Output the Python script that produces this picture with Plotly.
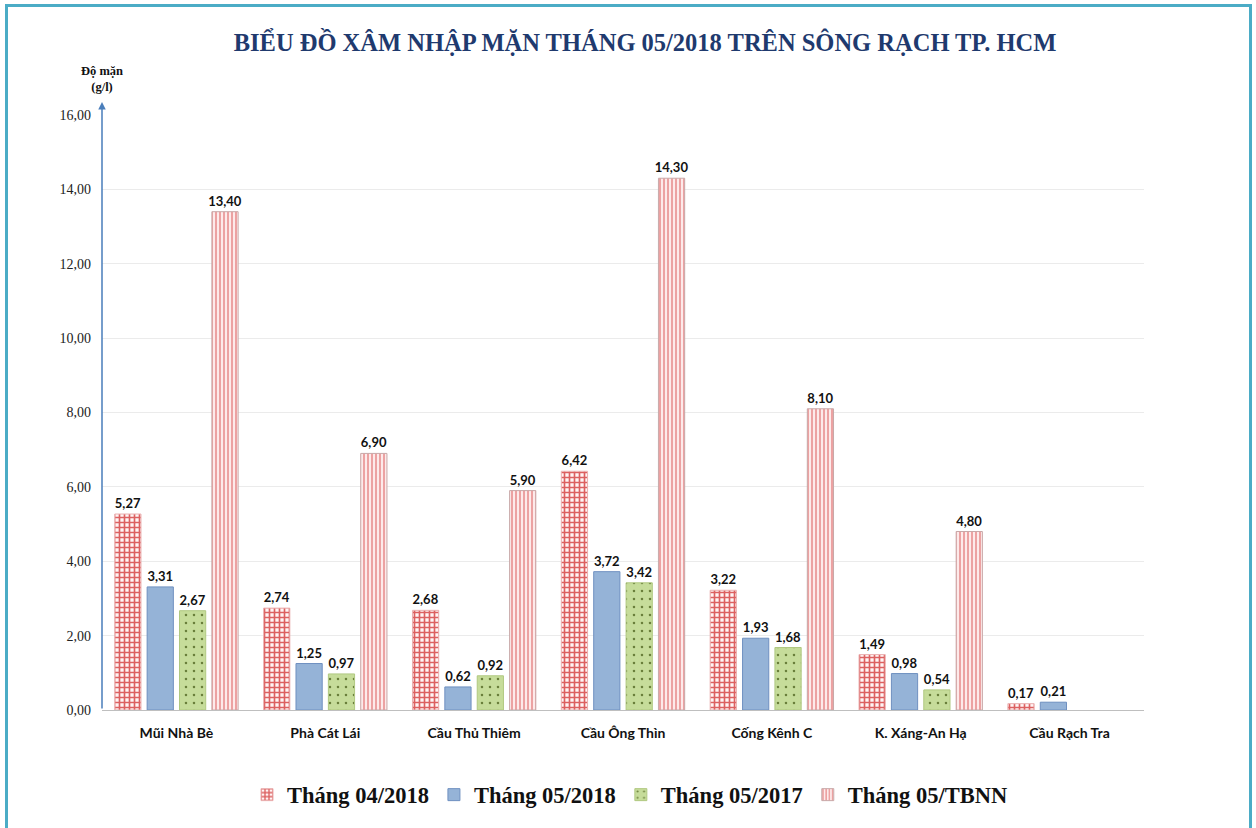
import plotly.graph_objects as go

categories = ["Mũi Nhà Bè", "Phà Cát Lái", "Cầu Thủ Thiêm", "Cầu Ông Thìn",
              "Cống Kênh C", "K. Xáng-An Hạ", "Cầu Rạch Tra"]
series_names = ["Tháng 04/2018", "Tháng 05/2018", "Tháng 05/2017", "Tháng 05/TBNN"]
thang_04_2018 = [5.27, 2.74, 2.68, 6.42, 3.22, 1.49, 0.17]
thang_05_2018 = [3.31, 1.25, 0.62, 3.72, 1.93, 0.98, 0.21]
thang_05_2017 = [2.67, 0.97, 0.92, 3.42, 1.68, 0.54, None]
thang_05_tbnn = [13.40, 6.90, 5.90, 14.30, 8.10, 4.80, None]
y_ticks = [0, 2, 4, 6, 8, 10, 12, 14, 16]

W, H = 1256, 828
L, R, T, B = 102, 112, 115, 118

def lbl(vals):
    return [("" if v is None else f"{v:.2f}".replace(".", ",")) for v in vals]

label_font = dict(family="Lato, Open Sans, sans-serif", size=13, color="#111111", weight="bold")
common = dict(textposition="outside", textfont=label_font, cliponaxis=False, constraintext="none")

fig = go.Figure()
fig.add_trace(go.Bar(
    name=series_names[0], x=categories, y=thang_04_2018, text=lbl(thang_04_2018), **common,
    marker=dict(color="#ffffff",
                pattern=dict(shape="+", fgcolor="#dc6060", bgcolor="#fff4f4", size=5, solidity=0.55, fillmode="replace"),
                line=dict(color="#eab0b0", width=1)),
))
fig.add_trace(go.Bar(
    name=series_names[1], x=categories, y=thang_05_2018, text=lbl(thang_05_2018), **common,
    marker=dict(color="#95b3d7", line=dict(color="#6f90c0", width=1)),
))
fig.add_trace(go.Bar(
    name=series_names[2], x=categories, y=thang_05_2017, text=lbl(thang_05_2017), **common,
    marker=dict(color="#c6dc9a",
                pattern=dict(shape=".", fgcolor="#6a7f3a", bgcolor="#c6dc9a", size=8, solidity=0.08, fillmode="replace"),
                line=dict(color="#b0c880", width=1)),
))
fig.add_trace(go.Bar(
    name=series_names[3], x=categories, y=thang_05_tbnn, text=lbl(thang_05_tbnn), **common,
    marker=dict(color="#fde8e8",
                pattern=dict(shape="|", fgcolor="#e89090", bgcolor="#fdeaea", size=4, solidity=0.4, fillmode="replace"),
                line=dict(color="#c8a8a8", width=1)),
))

pw = W - L - R
ph = H - T - B
def px_x(p):
    return (p - L) / pw
def px_y(p):
    return (H - B - p) / ph

fig.update_layout(
    width=W, height=H,
    margin=dict(l=L, r=R, t=T, b=B),
    paper_bgcolor="white", plot_bgcolor="white",
    separators=",.",
    barmode="group", bargap=0.13, bargroupgap=0.19,
    title=dict(text="BIỂU ĐỒ XÂM NHẬP MẶN THÁNG 05/2018 TRÊN SÔNG RẠCH TP. HCM",
               x=645 / W, xanchor="center", y=1 - 42 / H, yanchor="middle",
               font=dict(family="Liberation Serif, Times New Roman, serif", size=24.5,
                         color="#1f3a6e", weight="bold")),
    xaxis=dict(showline=True, linecolor="#bfbfbf", linewidth=1, ticks="",
               tickfont=dict(family="Lato, Open Sans, sans-serif", size=14, color="#111111", weight="bold"),
               ticklabelstandoff=10, showgrid=False),
    yaxis=dict(range=[0, 16], tickvals=y_ticks, tickformat=".2f", showline=False,
               gridcolor="#ebebeb", gridwidth=1, zeroline=False, ticks="",
               ticklabelstandoff=10,
               tickfont=dict(family="Liberation Serif, Times New Roman, serif", size=14, color="#222222")),
    legend=dict(orientation="h", x=0.5 + (630 - (L + pw / 2)) / pw, xanchor="center",
                y=px_y(795), yanchor="middle",
                font=dict(family="Liberation Serif, Times New Roman, serif", size=22.5,
                          color="#111111", weight="bold"),
                itemwidth=30, tracegroupgap=0),
    showlegend=True,
)

# y-axis arrow
fig.add_annotation(xref="paper", yref="paper", x=0, y=px_y(102), axref="pixel", ayref="pixel",
                   ax=0, ay=608, text="", showarrow=True, arrowhead=2, arrowsize=1,
                   arrowwidth=1.5, arrowcolor="#4a7ebb")
# y-axis title
fig.add_annotation(xref="paper", yref="paper", x=0, y=px_y(79), xanchor="center", yanchor="middle",
                   text="Độ mặn<br>(g/l)", showarrow=False, align="center",
                   font=dict(family="Liberation Serif, Times New Roman, serif", size=12.5,
                             color="#111111", weight="bold"))
# frame
fig.add_shape(type="rect", xref="paper", yref="paper",
              x0=px_x(6.5), x1=px_x(1250.5), y0=px_y(840), y1=px_y(5.5),
              line=dict(color="#4bacc6", width=3), fillcolor="rgba(0,0,0,0)", layer="above")

fig.write_html("out.html", config={"displayModeBar": False},
               post_script="document.body.style.margin='0';document.body.style.overflow='hidden';")
